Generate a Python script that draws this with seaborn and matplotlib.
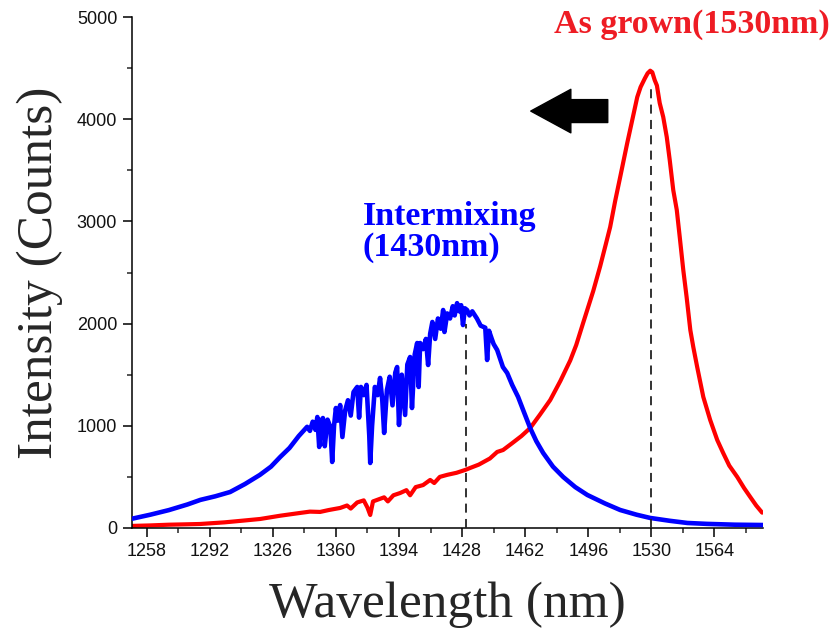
import matplotlib
matplotlib.use("Agg")
import matplotlib.pyplot as plt
import seaborn as sns
import numpy as np
import pandas as pd
from matplotlib.patches import FancyArrowPatch

# ---------------- data ----------------
blue_wl = [1250, 1260, 1270, 1280, 1287, 1295, 1303, 1311, 1319, 1325, 1330, 1335, 1340, 1343,
           1344.5, 1346, 1347.5, 1349, 1350, 1351, 1352, 1353, 1354, 1355.5, 1357, 1358, 1359,
           1360, 1361, 1362.3, 1363.5, 1365, 1366.5, 1368, 1369.5, 1371.5, 1372.5, 1373.5, 1375,
           1376.5, 1378, 1378.5, 1379.5, 1381, 1382.5, 1383.8, 1385, 1386, 1387.5, 1389, 1390.5,
           1392, 1393, 1394, 1395.5, 1397.3, 1398.5, 1400, 1401, 1402.5, 1403.8, 1404.6, 1405.4,
           1407, 1408.5, 1409.7, 1410.8, 1412, 1413.5, 1415, 1416.5, 1417.8, 1418.5, 1420, 1421.5,
           1423, 1424, 1425.3, 1426.5, 1427.5, 1428.5, 1429.5, 1430.7, 1432, 1433.5, 1436, 1438,
           1440.5, 1441.5, 1442.5, 1444, 1445, 1446.9, 1450, 1452.3, 1455, 1458.2, 1461, 1464.7,
           1468, 1471.7, 1477, 1482.5, 1489, 1495.5, 1505, 1513.2, 1522, 1529.4, 1540, 1549.4,
           1560, 1575, 1590]
blue_int = [90, 130, 175, 230, 275, 310, 352, 430, 519, 600, 695, 783, 900, 960,
            990, 950, 1040, 960, 1086, 793, 1050, 1076, 800, 1060, 990, 646, 1000,
            1174, 1050, 1203, 890, 1150, 1250, 1100, 1330, 1380, 1080, 1380, 1300,
            1400, 900, 636, 1000, 1380, 1300, 1468, 1250, 930, 1350, 1480, 1200,
            1520, 1575, 1008, 1500, 1106, 1600, 1673, 1174, 1700, 1810, 1380, 1810,
            1750, 1850, 1595, 1900, 2016, 1850, 2050, 1950, 2133, 1918, 2100, 2050,
            2170, 2080, 2200, 2120, 2180, 1986, 2150, 2133, 2080, 2120, 2050, 1980,
            1960, 1644, 1930, 1850, 1800, 1742, 1575, 1517, 1400, 1282, 1150, 978,
            850, 734, 600, 499, 400, 323, 240, 176, 130, 98, 70, 49,
            40, 32, 29]

red_wl = [1250, 1260, 1270, 1280, 1286.8, 1300, 1310, 1319.2, 1330, 1340.7, 1346, 1351.5, 1356,
          1362.3, 1366, 1368, 1371.5, 1375, 1377, 1378.5, 1380, 1383, 1386, 1388, 1391, 1394.6,
          1398, 1400, 1403, 1407, 1410.8, 1413, 1416, 1420, 1425, 1429.7, 1432.3, 1437, 1440,
          1443, 1446.9, 1450.1, 1455, 1460, 1464.7, 1470, 1475.5, 1481, 1486.3, 1489.5, 1493.3,
          1498.7, 1502.4, 1505.5, 1507.8, 1510.5, 1513.2, 1517, 1520.4, 1522.4, 1524.2, 1526.5,
          1528, 1529.4, 1530.5, 1531.8, 1533, 1534.5, 1536.4, 1538.3, 1539.9, 1541.8, 1543.7,
          1545.3, 1547.2, 1549, 1551, 1552.6, 1554.7, 1558, 1561.7, 1565.5, 1568.7, 1572,
          1576.3, 1580, 1583.3, 1586.5, 1589.7]
red_int = [20, 25, 32, 36, 39, 55, 72, 88, 120, 147, 160, 157, 175,
           196, 220, 190, 250, 270, 200, 127, 260, 280, 300, 260, 320, 342,
           370, 320, 400, 420, 470, 440, 500, 520, 540, 568, 587, 620, 650,
           680, 744, 763, 830, 900, 978, 1110, 1252, 1440, 1640, 1790, 2010,
           2320, 2560, 2780, 2945, 3200, 3434, 3767, 4050, 4217, 4315, 4400,
           4450, 4475, 4460, 4383, 4330, 4159, 4022, 3826, 3601, 3307, 3112,
           2847, 2525, 2260, 1937, 1771, 1575, 1282, 1057, 861, 734, 610,
           499, 390, 303, 220, 150]

peak_wl = [1430, 1530]
peak_top = [2000, 4330]

x_ticks = [1258, 1292, 1326, 1360, 1394, 1428, 1462, 1496, 1530, 1564]
y_ticks = [0, 1000, 2000, 3000, 4000, 5000]

# ---------------- figure ----------------
sns.set_theme(style="ticks")
plt.rcParams['font.family'] = ['Liberation Sans', 'DejaVu Sans']

fig = plt.figure(figsize=(8.34, 6.32), dpi=100)
ax = fig.add_axes([0.158, 0.1646, 0.7565, 0.8084])

red_df = pd.DataFrame({"wl": red_wl, "cnt": red_int})
blue_df = pd.DataFrame({"wl": blue_wl, "cnt": blue_int})
sns.lineplot(data=red_df, x="wl", y="cnt", color="#ff0000", linewidth=3.0,
             estimator=None, sort=False, ax=ax, zorder=2)
sns.lineplot(data=blue_df, x="wl", y="cnt", color="#0000ff", linewidth=3.3,
             estimator=None, sort=False, ax=ax, zorder=3)

ax.vlines(peak_wl, 0, peak_top, colors="#222222", linestyles=(0, (5, 3.5)),
          linewidth=1.3, zorder=5)

ax.set_xlim(1250, 1590)
ax.set_ylim(0, 5000)
ax.set_xticks(x_ticks)
ax.set_xticks([t + 17 for t in x_ticks], minor=True)
ax.set_yticks(y_ticks)
ax.set_yticks([t + 500 for t in y_ticks[:-1]], minor=True)
ax.tick_params(axis="both", which="major", direction="out", length=6.5, width=1.1,
               labelsize=13, colors="black", pad=4)
ax.tick_params(axis="both", which="minor", direction="out", length=3.5, width=1.1)
for lab in ax.get_xticklabels() + ax.get_yticklabels():
    lab.set_color("#111111")

for s in ["top", "right"]:
    ax.spines[s].set_visible(False)
for s in ["left", "bottom"]:
    ax.spines[s].set_linewidth(1.1)
    ax.spines[s].set_color("black")

serif = ['Liberation Serif', 'DejaVu Serif']
ax.set_xlabel("Wavelength (nm)", fontsize=37, family=serif, labelpad=16)
ax.set_ylabel("Intensity (Counts)", fontsize=37, family=serif, labelpad=10)

ax.text(1626, 4930, "As grown(1530nm)", color="#ee1c24", fontsize=24.5,
        fontweight="bold", family=serif, ha="right", va="center", clip_on=False)
ax.text(1374.5, 2900, "Intermixing\n(1430nm)", color="#0000ff", fontsize=24.5,
        fontweight="bold", family=serif, ha="left", va="center", linespacing=1.0)

arrow = FancyArrowPatch((1508, 4080), (1463.5, 4080),
                        arrowstyle="simple,head_length=1.75,head_width=1.9,tail_width=1.0",
                        mutation_scale=16.5, color="black", zorder=6)
ax.add_patch(arrow)

fig.savefig("out.png", dpi=100)
